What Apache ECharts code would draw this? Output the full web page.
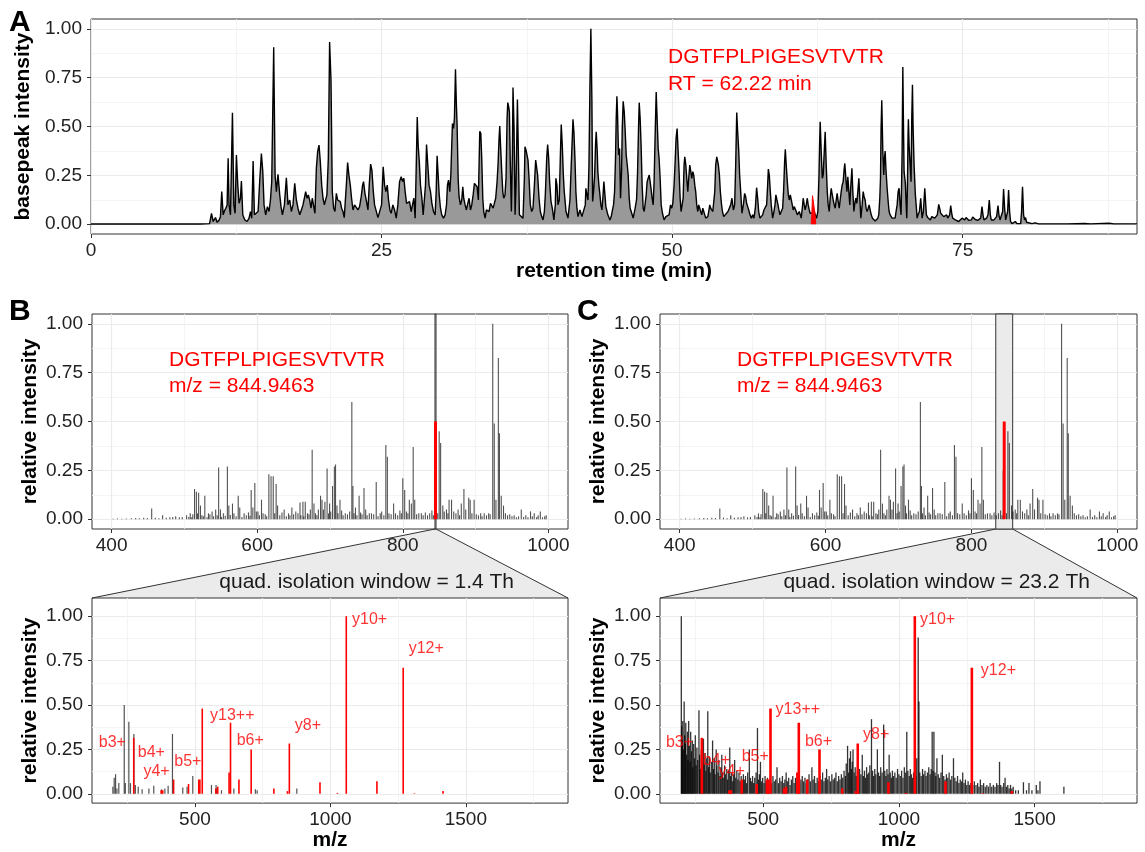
<!DOCTYPE html>
<html><head><meta charset="utf-8">
<script src="https://cdn.jsdelivr.net/npm/echarts@6/dist/echarts.min.js"></script>
<style>html,body{margin:0;padding:0;background:#fff}#c{width:1145px;height:852px}</style>
</head><body><div id="c"></div>
<script>
const FONT = '"Liberation Sans", Arial, Helvetica, sans-serif';

// ---------- DATA ----------
const chromatogram = [[0,0.001],[1.0,0.001],[1.05,0.004],[1.12,0.001],[5,0.001],[9.4,0.001],[10.2,0.003],
[10.37,0.056],[10.51,0.014],[10.71,0.034],[10.85,0.01],[11.03,0.022],[11.14,0.04],[11.25,0.167],[11.37,0.048],[11.48,0.068],[11.6,0.082],[11.71,0.099],[11.8,0.337],[11.88,0.099],[12.0,0.048],[12.17,0.57],[12.29,0.099],[12.4,0.056],[12.51,0.354],[12.63,0.2],[12.74,0.107],[12.86,0.133],[12.94,0.221],[13.06,0.048],[13.23,0.022],[13.43,0.014],[13.6,0.031],[13.72,0.065],[13.83,0.031],[13.95,0.323],[14.06,0.048],[14.23,0.039],[14.38,0.065],[14.52,0.226],[14.66,0.362],[14.78,0.269],[14.89,0.099],[15.03,0.048],[15.18,0.09],[15.32,0.065],[15.44,0.124],[15.55,0.218],[15.72,0.906],[15.84,0.252],[15.95,0.167],[16.09,0.255],[16.24,0.15],[16.35,0.09],[16.47,0.048],[16.64,0.099],[16.81,0.238],[16.95,0.099],[17.1,0.124],[17.24,0.065],[17.38,0.099],[17.53,0.209],[17.67,0.124],[17.81,0.082],[17.96,0.048],[18.1,0.073],[18.24,0.099],[18.36,0.133],[18.47,0.167],[18.59,0.133],[18.7,0.15],[18.81,0.124],[18.93,0.082],[19.04,0.133],[19.16,0.124],[19.27,0.056],[19.39,0.286],[19.5,0.371],[19.62,0.405],[19.73,0.32],[19.85,0.2],[19.96,0.133],[20.08,0.099],[20.19,0.107],[20.3,0.15],[20.42,0.337],[20.53,0.932],[20.65,0.736],[20.76,0.167],[20.88,0.082],[20.99,0.065],[21.11,0.158],[21.22,0.124],[21.33,0.133],[21.45,0.116],[21.56,0.082],[21.68,0.065],[21.79,0.034],[21.97,0.2],[22.08,0.315],[22.19,0.252],[22.31,0.2],[22.42,0.133],[22.54,0.073],[22.68,0.099],[22.83,0.107],[22.97,0.073],[23.11,0.09],[23.25,0.141],[23.37,0.2],[23.45,0.218],[23.57,0.158],[23.68,0.124],[23.83,0.073],[23.94,0.2],[24.06,0.308],[24.17,0.277],[24.29,0.167],[24.4,0.099],
[24.54,0.099],[24.69,0.034],[24.86,0.031],[25.0,0.099],[25.14,0.294],[25.26,0.2],[25.37,0.167],[25.49,0.2],[25.6,0.124],[25.72,0.073],[25.83,0.056],[25.97,0.099],[26.12,0.073],[26.26,0.031],[26.4,0.099],[26.55,0.218],[26.69,0.243],[26.81,0.218],[26.92,0.235],[27.03,0.167],[27.15,0.107],[27.26,0.099],[27.41,0.116],[27.55,0.065],[27.66,0.099],[27.78,0.133],[27.89,0.031],[27.98,0.286],[28.07,0.549],[28.15,0.405],[28.24,0.328],[28.35,0.2],[28.47,0.133],[28.58,0.048],[28.7,0.048],[28.78,0.2],[28.87,0.408],[28.98,0.303],[29.09,0.2],[29.21,0.167],[29.33,0.107],[29.47,0.065],[29.61,0.048],[29.7,0.167],[29.78,0.35],[29.87,0.252],[29.96,0.15],[30.07,0.082],[30.18,0.048],[30.33,0.031],[30.47,0.048],[30.59,0.099],[30.67,0.2],[30.76,0.226],[30.87,0.167],[30.96,0.252],[31.04,0.405],[31.1,0.515],[31.19,0.49],[31.27,0.541],[31.36,0.793],[31.44,0.609],[31.5,0.51],[31.59,0.235],[31.67,0.141],[31.79,0.099],[31.9,0.124],[31.99,0.192],[32.07,0.133],[32.19,0.099],[32.3,0.073],[32.42,0.107],[32.53,0.133],[32.65,0.073],[32.76,0.099],[32.88,0.15],[32.99,0.209],[33.11,0.2],[33.22,0.192],[33.33,0.124],[33.39,0.303],[33.45,0.476],[33.54,0.464],[33.62,0.337],[33.71,0.133],[33.79,0.065],[33.91,0.031],[34.02,0.073],[34.14,0.082],[34.25,0.065],[34.37,0.107],[34.48,0.116],[34.6,0.082],[34.71,0.073],[34.82,0.133],[34.94,0.218],[35.02,0.303],[35.11,0.439],[35.17,0.502],[35.25,0.388],[35.34,0.269],[35.43,0.167],[35.51,0.133],[35.62,0.15],[35.71,0.235],[35.8,0.541],[35.86,0.622],[35.94,0.6],[36.0,0.575],[36.08,0.303],[36.17,0.065],[36.26,0.371],[36.31,0.699],[36.4,0.49],[36.49,0.048],[36.57,0.2],[36.69,0.638],[36.77,0.371],[36.86,0.048],[37.0,0.039],[37.17,0.031],[37.29,0.235],[37.34,0.396],[37.43,0.379],[37.51,0.371],[37.6,0.328],[37.69,0.235],[37.8,0.099],[37.92,0.065],[38.03,0.082],[38.15,0.2],[38.26,0.328],[38.35,0.337],[38.43,0.252],[38.55,0.133],[38.66,0.065],[38.78,0.039],[38.89,0.022],[39.01,0.065],[39.09,0.15],[39.21,0.337],[39.29,0.408],[39.38,0.337],[39.46,0.218],[39.58,0.116],[39.69,0.082],
[39.83,0.022],[39.95,0.099],[40.0,0.235],[40.09,0.2],[40.18,0.099],[40.29,0.124],[40.38,0.337],[40.46,0.51],[40.55,0.405],[40.64,0.252],[40.72,0.167],[40.87,0.065],[41.04,0.031],[41.21,0.124],[41.32,0.303],[41.41,0.439],[41.47,0.537],[41.55,0.473],[41.64,0.337],[41.72,0.167],[41.81,0.082],[41.9,0.039],[42.07,0.073],[42.24,0.039],[42.41,0.031],[42.53,0.099],[42.58,0.184],[42.67,0.15],[42.76,0.124],[42.84,0.286],[42.93,0.711],[43.01,1.0],[43.1,0.626],[43.16,0.116],[43.24,0.167],[43.33,0.243],[43.41,0.405],[43.47,0.473],[43.56,0.371],[43.61,0.269],[43.7,0.2],[43.79,0.15],[43.87,0.099],[43.96,0.073],[44.04,0.133],[44.13,0.218],[44.22,0.15],[44.3,0.09],[44.47,0.048],[44.65,0.022],[44.76,0.039],[44.87,0.073],[44.96,0.099],[45.05,0.167],[45.13,0.337],[45.19,0.541],[45.25,0.655],[45.3,0.575],[45.39,0.354],[45.48,0.388],[45.56,0.133],[45.65,0.269],[45.71,0.49],[45.79,0.629],[45.88,0.575],[45.96,0.481],[46.05,0.354],[46.14,0.303],[46.22,0.252],[46.31,0.133],[46.39,0.082],[46.48,0.065],[46.65,0.031],[46.82,0.082],[46.94,0.124],[47.02,0.252],[47.11,0.49],[47.17,0.622],[47.25,0.541],[47.34,0.388],[47.42,0.2],[47.51,0.082],[47.6,0.065],[47.68,0.073],[47.77,0.15],[47.85,0.218],[47.94,0.235],[48.03,0.252],[48.11,0.218],[48.2,0.175],[48.28,0.133],[48.37,0.099],[48.45,0.218],[48.54,0.456],[48.63,0.677],[48.71,0.541],[48.8,0.388],[48.88,0.337],[48.97,0.235],[49.06,0.099],[49.17,0.056],[49.31,0.022],[49.46,0.039],[49.6,0.031],[49.74,0.048],[49.86,0.099],[49.97,0.082],[50.06,0.107],[50.17,0.2],[50.26,0.32],[50.34,0.439],[50.43,0.49],[50.52,0.371],[50.6,0.269],[50.69,0.133],[50.77,0.065],[50.86,0.099],[50.95,0.133],[51.03,0.303],[51.09,0.345],[51.18,0.303],[51.26,0.235],[51.35,0.167],[51.43,0.235],[51.52,0.303],[51.61,0.269],[51.69,0.235],[51.78,0.269],[51.86,0.252],[51.95,0.2],[52.03,0.167],[52.12,0.099],[52.21,0.065],[52.29,0.099],[52.38,0.099],[52.46,0.065],[52.55,0.048],[52.64,0.082],[52.72,0.073],[52.81,0.048],[52.89,0.031],[52.98,0.039],[53.07,0.039],[53.15,0.065],[53.24,0.099],[53.32,0.082],[53.41,0.073],[53.5,0.065],[53.58,0.065],[53.67,0.167],[53.75,0.303],[53.84,0.345],[53.9,0.328],[53.98,0.303],[54.07,0.252],[54.15,0.167],[54.24,0.107],[54.33,0.065],[54.44,0.039],[54.61,0.048],
[54.81,0.065],[54.93,0.073],[55.04,0.099],[55.15,0.133],[55.27,0.073],[55.38,0.099],[55.47,0.303],[55.56,0.571],[55.64,0.473],[55.73,0.379],[55.81,0.252],[55.9,0.167],[56.01,0.056],[56.13,0.099],[56.24,0.158],[56.33,0.141],[56.41,0.107],[56.5,0.09],[56.59,0.073],[56.7,0.048],[56.82,0.031],[56.93,0.048],[57.04,0.031],[57.16,0.082],[57.27,0.187],[57.36,0.133],[57.45,0.065],[57.56,0.031],[57.67,0.039],[57.79,0.048],[57.9,0.073],[58.02,0.073],[58.13,0.099],[58.22,0.2],[58.28,0.282],[58.36,0.252],[58.45,0.167],[58.53,0.099],[58.65,0.031],[58.76,0.065],[58.85,0.099],[58.93,0.15],[59.02,0.124],[59.11,0.099],[59.19,0.073],[59.28,0.048],[59.39,0.065],[59.51,0.082],[59.59,0.167],[59.68,0.32],[59.74,0.383],[59.82,0.303],[59.91,0.218],[60.0,0.15],[60.08,0.124],[60.17,0.15],[60.25,0.158],[60.34,0.099],[60.42,0.073],[60.51,0.09],[60.6,0.082],[60.68,0.065],[60.77,0.048],[60.85,0.056],[60.94,0.065],[61.03,0.048],[61.11,0.031],[61.2,0.082],[61.28,0.133],[61.37,0.099],[61.45,0.073],[61.54,0.099],[61.63,0.133],[61.71,0.099],[61.8,0.073],[61.88,0.056],[61.97,0.048],[62.08,0.056],[62.2,0.073],[62.31,0.048],[62.43,0.031],[62.54,0.065],[62.63,0.235],[62.69,0.405],[62.74,0.524],[62.83,0.371],[62.92,0.235],[63.0,0.252],[63.09,0.371],[63.17,0.473],[63.26,0.303],[63.35,0.167],[63.43,0.099],[63.52,0.065],[63.6,0.133],[63.69,0.184],[63.78,0.15],[63.86,0.124],[63.95,0.099],[64.03,0.082],[64.12,0.124],[64.2,0.158],[64.29,0.116],[64.38,0.082],[64.46,0.124],[64.55,0.167],[64.63,0.2],[64.72,0.218],[64.81,0.286],[64.86,0.311],[64.95,0.235],[65.04,0.167],[65.12,0.243],[65.21,0.167],[65.29,0.099],[65.38,0.2],[65.47,0.286],[65.55,0.167],[65.64,0.065],[65.72,0.107],[65.81,0.133],[65.89,0.107],[65.98,0.167],[66.07,0.235],[66.15,0.133],[66.24,0.031],[66.35,0.099],[66.44,0.167],[66.52,0.141],[66.61,0.124],[66.69,0.082],[66.78,0.065],[66.87,0.082],[66.95,0.099],[67.04,0.073],[67.13,0.048],[67.24,0.031],[67.36,0.031],[67.47,0.017],[67.58,0.014],[67.7,0.031],[67.78,0.048],[67.87,0.133],[67.93,0.235],[67.98,0.49],[68.04,0.634],[68.13,0.371],[68.21,0.252],[68.27,0.337],[68.33,0.374],[68.41,0.269],[68.5,0.184],[68.59,0.116],[68.67,0.065],[68.76,0.048],[68.84,0.039],[68.93,0.031],[69.02,0.022],[69.1,0.027],[69.19,0.031],[69.27,0.065],[69.36,0.099],[69.45,0.167],[69.53,0.184],[69.62,0.099],[69.7,0.048],[69.79,0.371],[69.85,0.804],
[69.9,0.541],[69.96,0.269],[70.02,0.235],[70.07,0.209],[70.13,0.116],[70.19,0.031],[70.25,0.2],[70.3,0.456],[70.33,0.537],[70.39,0.405],[70.45,0.337],[70.5,0.286],[70.56,0.218],[70.62,0.541],[70.68,0.714],[70.73,0.507],[70.82,0.303],[70.88,0.218],[70.93,0.15],[71.02,0.082],[71.08,0.031],[71.16,0.048],[71.28,0.065],[71.39,0.133],[71.45,0.082],[71.51,0.031],[71.62,0.065],[71.74,0.184],[71.79,0.133],[71.88,0.048],[71.99,0.034],[72.11,0.031],[72.22,0.022],[72.34,0.039],[72.48,0.039],[72.6,0.031],[72.71,0.031],[72.82,0.048],[72.94,0.102],[73.02,0.082],[73.11,0.056],[73.2,0.048],[73.28,0.056],[73.37,0.039],[73.45,0.031],[73.54,0.039],[73.63,0.048],[73.71,0.031],[73.8,0.022],[73.88,0.048],[73.97,0.095],[74.06,0.056],[74.14,0.031],[74.26,0.022],[74.37,0.022],[74.51,0.017],[74.66,0.014],[74.8,0.022],[74.94,0.031],[75.06,0.022],[75.17,0.022],[75.29,0.034],[75.4,0.031],[75.52,0.02],[75.63,0.014],[75.75,0.022],[75.86,0.037],[75.97,0.031],[76.09,0.024],[76.2,0.022],[76.32,0.02],[76.43,0.017],[76.55,0.031],[76.66,0.09],[76.75,0.048],[76.83,0.022],[76.95,0.027],[77.06,0.031],[77.18,0.048],[77.29,0.124],[77.38,0.048],[77.46,0.022],[77.58,0.02],[77.69,0.022],[77.81,0.027],[77.92,0.039],[78.04,0.095],[78.12,0.048],[78.21,0.022],[78.32,0.031],[78.44,0.065],[78.52,0.18],[78.61,0.082],[78.7,0.022],[78.78,0.022],[78.87,0.065],[78.95,0.175],[79.04,0.065],[79.12,0.014],[79.24,0.003],[79.38,0.005],[79.53,0.014],[79.67,0.003],[79.81,0.002],[79.99,0.003],[80.07,0.065],[80.15,0.192],[80.24,0.048],[80.33,0.022],[80.41,0.034],[80.5,0.01],[80.67,0.002],[80.96,0.003],[81.24,0.007],[81.53,0.002],[82.1,0.002],[84,0.002],[85.5,0.004],[86,0.002],[87.6,0.005],[88,0.002],[90,0.002]];

const targetXic = [[61.97,0],[62.02,0.05],[62.08,0.146],[62.24,0.146],[62.3,0.05],[62.36,0]];

const ms1Peaks = [[455,0.055],[470,0.02],[513.9,0.155],[516.4,0.14],[519.5,0.135],[522,0.07],[528,0.12],[533,0.03],[538,0.04],[542.9,0.05],[547,0.265],[549.5,0.05],[553.5,0.03],[559,0.27],[561,0.07],[566,0.08],[573.9,0.12],[576,0.06],[591.7,0.15],[594,0.06],[596.7,0.185],[598.8,0.04],[605.9,0.10],[616,0.23],[619,0.22],[622,0.22],[626,0.18],[628,0.07],[637,0.05],[647.6,0.06],[658.8,0.085],[662.8,0.09],[666,0.09],[675.5,0.355],[678,0.08],[684,0.05],[687,0.12],[689,0.10],[693,0.09],[696,0.26],[699.4,0.08],[703.5,0.17],[706,0.27],[707.6,0.28],[709.6,0.07],[713.7,0.10],[730,0.60],[731.5,0.17],[735,0.06],[740,0.12],[746.7,0.16],[749,0.05],[754,0.03],[763.5,0.19],[776.7,0.38],[778.8,0.32],[787.4,0.08],[800,0.21],[802.6,0.15],[809,0.10],[811.8,0.08],[814.3,0.37],[816.4,0.10],[825.5,0.03],[843.6,0.25],[850,0.45],[852,0.39],[855,0.07],[863.6,0.10],[867,0.10],[880.4,0.08],[884,0.155],[886.5,0.05],[890.6,0.11],[892.6,0.10],[898,0.10],[911.9,0.03],[923.6,1.0],[925.7,0.49],[928,0.10],[931.3,0.825],[932.8,0.44],[935.3,0.12],[938.4,0.07],[962.8,0.05],[975.5,0.04],[980.6,0.03],[989,0.04],[997,0.02]];

const ms1Minor = [[402,0.003],[408,0.004],[414,0.003],[420,0.004],[427,0.005],[433,0.006],[438,0.005],[444,0.008],[449,0.006],[460,0.008],[465,0.005],[475,0.008],[480,0.01],[484,0.012],[488,0.015],[493,0.01],[497,0.012],
[503,0.02],[506,0.012],[508,0.03],[510,0.01],[511.5,0.025],[518,0.03],[524,0.02],[526,0.015],[531,0.01],[535,0.025],[540,0.015],[545,0.02],[551,0.012],[556,0.018],[563,0.022],[568,0.03],[571,0.015],[579,0.012],[582,0.03],[585,0.02],[588,0.035],[590,0.018],[601,0.04],[603,0.02],[608,0.03],[611,0.025],[613,0.015],[624,0.03],[631,0.02],[634,0.035],[640,0.015],[643,0.03],[645,0.02],[650,0.025],[653,0.04],[656,0.03],[660,0.02],[664,0.015],[669,0.03],[671,0.025],[673,0.05],[680,0.03],[682,0.02],[691,0.05],[698,0.03],[701,0.04],[711,0.03],[716,0.045],[718,0.02],[721,0.03],[724,0.025],[727,0.04],[733,0.03],[737,0.02],[742,0.035],[744,0.025],[751,0.02],[757,0.03],[760,0.025],[766,0.015],[769,0.03],[771,0.04],[774,0.02],[781,0.03],[784,0.025],[790,0.03],[793,0.02],[796,0.045],[798,0.03],[805,0.04],[807,0.03],[819,0.025],[822,0.03],[828,0.02],[831,0.035],[834,0.02],[837,0.03],[840,0.045],[842,0.02],[848,0.03],[857,0.04],[860,0.05],[862,0.03],[870,0.04],[873,0.03],[876,0.05],[878,0.02],[895,0.03],[901,0.025],[904,0.02],[907,0.03],[909,0.015],[915,0.02],[918,0.03],[920,0.025],[941,0.03],[944,0.02],[947,0.025],[950,0.015],[953,0.02],[956,0.01],[959,0.015],[966,0.012],[969,0.02],[972,0.01],[978,0.015],[984,0.012],[986,0.02],[992,0.01],[995,0.015]];

const precursor = [[844.9463, 0.5]];
const isoWindowNarrow = [[844.2463, 845.6463]];
const isoWindowWide = [[833.3463, 856.5463]];

const ms2NarrowGrey = [[197,0.04],[202,0.09],[207,0.11],[212,0.03],[219,0.06],[239,0.50],[243,0.06],[256,0.405],[262,0.06],[274.6,0.337],[280,0.05],[290.6,0.04],[305,0.025],[330,0.03],[348,0.045],[376.6,0.025],[389,0.03],[401,0.045],[417,0.337],[455,0.035],[471,0.04],[492,0.10],[561,0.05],[578,0.05],[582,0.03],[598,0.02],[643.5,0.03],[723,0.025],[729.6,0.02],[876,0.03]];

const ms2WideGrey = [[198.5,1.0],[200,0.38],[202,0.30],[204,0.41],[206,0.25],[209,0.52],[211,0.33],[213,0.28],[215,0.40],[218,0.22],[221,0.35],[223,0.19],[225.6,0.41],[228,0.27],[231,0.18],[233,0.35],[236,0.24],[239,0.30],[241,0.15],[244,0.28],[247,0.20],[250,0.33],[253,0.16],[256,0.26],[259,0.19],[263.5,0.47],[266,0.22],[269,0.14],[272,0.25],[276,0.18],[280,0.31],[283,0.17],[286,0.23],[289,0.13],[292,0.20],[296,0.465],[299,0.15],[302,0.21],[305,0.12],[309,0.18],[313.7,0.30],[317,0.14],[320,0.20],[323,0.11],[327,0.25],[330,0.16],[334,0.12],[337,0.19],[341,0.10],[344,0.15],[347.6,0.22],[351,0.12],[355,0.09],[358,0.16],[362,0.11],[366,0.14],[369,0.08],[373,0.13],[377,0.26],[380,0.10],[384,0.12],[388,0.07],[391,0.11],[395,0.19],[399,0.09],[403,0.13],[407,0.08],[411,0.12],[415,0.07],[419,0.10],[423,0.06],[427,0.11],[431,0.08],[435,0.10],[439,0.06],[443,0.12],[449,0.25],[453,0.09],[457,0.07],[461,0.10],[465,0.06],[469,0.09],[474,0.12],[479,0.37],[483,0.08],[486,0.11],[490,0.18],[494,0.07],[498,0.09],[503,0.06],[507,0.10],[511,0.07],[516,0.09],[520,0.05],[525,0.08],[531,0.06],[536,0.10],[541,0.07],[546,0.08],[551,0.15],[556,0.06],[561,0.09],[566,0.07],[571,0.10],[576,0.06],[580,0.08],[584.7,0.12],[589,0.07],[594,0.09],[599,0.05],[604,0.08],[609,0.10],[614,0.06],[619,0.09],[624,0.07],[629,0.11],[634,0.06],[639,0.08],[644,0.10],[649,0.07],[654,0.09],[659,0.06],[664,0.08],[669,0.11],[674,0.07],[679.5,0.15],[684,0.08],[689,0.10],[694,0.06],[699,0.09],[704,0.07],[709,0.10],[714,0.08],[719,0.12],[724,0.07],[729,0.09],[733.7,0.14],[738,0.08],[743,0.10],[748,0.07],[753,0.11],[758,0.08],[763,0.09],[768,0.12],[773,0.07],[778,0.10],[783,0.08],[788,0.11],[793,0.09],[798,0.13],[803,0.10],[806,0.17],[810.9,0.27],[815,0.12],[818,0.20],[821.8,0.24],[825,0.14],[828,0.18],[831,0.25],[835,0.12],[839,0.15],[843,0.10],[847,0.13],[851,0.09],[855,0.14],[860,0.11],[865,0.22],[869,0.10],[873,0.13],[877,0.09],[881,0.15],[885,0.11],[889,0.12],[893,0.16],[899,0.42],[903,0.13],[907,0.10],[911,0.14],[915,0.11],[920.7,0.25],[925,0.12],[929,0.10],[933,0.15],[938,0.12],[943.8,0.39],[948,0.13],[952,0.10],[956,0.14],[960,0.11],[964,0.22],[968,0.12],[972,0.09],[976,0.13],[980,0.10],[985,0.12],[990,0.09],[995,0.14],[1000,0.11],[1005,0.10],[1010,0.13],[1015,0.09],[1020,0.15],[1025,0.12],[1029,0.35],[1033,0.13],[1038,0.10],[1042,0.14],[1046,0.11],[1050,0.09],[1054,0.12],[1062,0.10],[1065.7,0.20],[1071,0.88],[1073.8,0.52],[1077,0.12],[1082,0.10],[1087,0.14],[1091,0.11],[1096,0.13],[1100,0.10],[1105,0.12],[1110,0.15],[1115,0.11],[1119,0.14],[1122.6,0.35],[1126,0.13],[1129,0.35],[1133,0.12],[1136,0.10],[1140,0.20],[1145,0.11],[1150,0.09],[1155,0.12],[1160,0.22],[1165,0.10],[1170,0.08],[1175,0.11],[1180,0.09],[1185,0.12],[1190,0.08],[1195,0.10],[1201,0.20],[1206,0.09],[1211,0.07],[1216,0.10],[1221,0.06],[1226,0.08],[1231,0.07],[1235,0.12],[1240,0.06],[1245,0.08],[1250,0.05],[1255,0.07],[1260,0.05],[1265,0.06],[1272,0.05],[1278,0.07],[1284,0.05],[1290,0.06],[1295,0.04],[1300,0.08],[1306,0.05],[1312,0.06],[1318,0.04],[1324,0.05],[1330,0.04],[1336,0.06],[1342,0.04],[1348,0.05],[1354,0.04],[1360,0.06],[1365,0.05],[1370.6,0.18],[1375,0.05],[1380,0.04],[1386,0.06],[1391,0.09],[1396,0.04],[1401,0.05],[1406,0.03],[1411,0.05],[1416,0.03],[1421,0.04],[1430,0.02],[1440,0.02],[1458.7,0.065],[1470,0.02],[1479,0.06],[1490,0.02],[1506,0.05],[1512,0.02],[1519.6,0.07],[1607.7,0.04]];

const ms2Annotated = [[274.1,0.315],[375.2,0.02],[381,0.02],[421.2,0.08],[476.3,0.055],[514,0.08],[518.2,0.08],[527,0.48],[577,0.03],[584,0.04],[626,0.12],[631.3,0.40],[662.4,0.08],[707.5,0.25],[791.4,0.03],[841.4,0.015],[848.4,0.283],[961.5,0.065],[1026,0.005],[1058.6,1.0],[1171.7,0.07],[1268.7,0.71],[1310,0.003],[1415.8,0.015]];

const ionLabelsNarrow = [[143,0.29,'b3+'],[287,0.23,'b4+'],[308,0.124,'y4+'],[422,0.184,'b5+'],[554,0.442,'y13++'],[652,0.30,'b6+'],[867,0.384,'y8+'],[1078,0.979,'y10+'],[1287,0.82,'y12+']];
const ionLabelsWide = [[140,0.29,'b3+'],[276,0.187,'b4+'],[334,0.127,'y4+'],[419,0.208,'b5+'],[544,0.472,'y13++'],[652,0.296,'b6+'],[866,0.333,'y8+'],[1076,0.983,'y10+'],[1300,0.693,'y12+']];

const yTicks = [0, 0.25, 0.5, 0.75, 1];
const yMinorTicks = [0.125, 0.375, 0.625, 0.875];
const rtTicks = [0, 25, 50, 75];
const rtMinorTicks = [12.5, 37.5, 62.5, 87.5];
const ms1Ticks = [400, 600, 800, 1000];
const ms1MinorTicks = [500, 700, 900];
const ms2Ticks = [500, 1000, 1500];
const ms2MinorTicks = [250, 750, 1250, 1750];

// ---------- LAYOUT ----------
const G = [
  {left:91, top:19, width:1046, height:215},   // A
  {left:92, top:314, width:476, height:215},   // B top
  {left:660, top:314, width:477, height:215},  // C top
  {left:92, top:598, width:476, height:206},   // B bottom
  {left:660, top:598, width:477, height:206}   // C bottom
];
const XR = [[0,90],[373,1027],[373,1027],[120,1877],[120,1877]];
const YR = [[-0.05,1.05],[-0.05,1.05],[-0.05,1.05],[-0.0525,1.1025],[-0.0525,1.1025]];
const XT = [[rtTicks,rtMinorTicks],[ms1Ticks,ms1MinorTicks],[ms1Ticks,ms1MinorTicks],[ms2Ticks,ms2MinorTicks],[ms2Ticks,ms2MinorTicks]];
const XNAME = [['retention time (min)',26],['',0],['',0],['m/z',26],['m/z',26]];
const YNAME = ['basepeak intensity','relative intensity','relative intensity','relative intensity','relative intensity'];
const YGAP = [49, 51, 51, 51, 51];

const titleStyle = {fontFamily:FONT, fontSize:21, fontWeight:'bold', color:'#000'};
const xAxes = [], yAxes = [];
for (let i=0;i<5;i++){
  xAxes.push({type:'value', gridIndex:i, min:XR[i][0], max:XR[i][1], position:'bottom',
    axisLine:{show:false, onZero:false},
    axisTick:{show:true, length:4, lineStyle:{color:'#333', width:1}, customValues:XT[i][0]},
    axisLabel:{customValues:XT[i][0], fontFamily:FONT, fontSize:19, color:'#222', margin:7, formatter:v=>String(v)},
    splitLine:{show:true, lineStyle:{color:'#EBEBEB', width:1.2}},
    name:XNAME[i][0], nameLocation:'middle', nameGap:XNAME[i][1], nameTextStyle:titleStyle});
  yAxes.push({type:'value', gridIndex:i, min:YR[i][0], max:YR[i][1], position:'left',
    axisLine:{show:false, onZero:false},
    axisTick:{show:true, length:4, lineStyle:{color:'#333', width:1}, customValues:yTicks},
    axisLabel:{customValues:yTicks, fontFamily:FONT, fontSize:19, color:'#222', margin:9, formatter:v=>Number(v).toFixed(2)},
    splitLine:{show:true, lineStyle:{color:'#EBEBEB', width:1.2}},
    name:YNAME[i], nameLocation:'middle', nameGap:YGAP[i], nameRotate:90, nameTextStyle:titleStyle});
}
for (let i=0;i<5;i++){
  xAxes.push({type:'value', gridIndex:i, min:XR[i][0], max:XR[i][1], position:'top',
    axisLine:{show:false, onZero:false}, axisTick:{show:false, customValues:XT[i][1]},
    axisLabel:{show:false, customValues:XT[i][1]},
    splitLine:{show:true, lineStyle:{color:'#F1F1F1', width:0.8}}});
  yAxes.push({type:'value', gridIndex:i, min:YR[i][0], max:YR[i][1], position:'right',
    axisLine:{show:false, onZero:false}, axisTick:{show:false, customValues:yMinorTicks},
    axisLabel:{show:false, customValues:yMinorTicks},
    splitLine:{show:true, lineStyle:{color:'#F1F1F1', width:0.8}}});
}

function sticks(data, idx, color, width, z){
  return {type:'custom', xAxisIndex:idx, yAxisIndex:idx, data, z, silent:true, clip:true,
    encode:{x:0, y:1},
    renderItem:(params, api)=>{
      const x = api.value(0), y = api.value(1);
      const a = api.coord([x, 0]), b = api.coord([x, y]);
      return {type:'line', shape:{x1:a[0], y1:a[1], x2:b[0], y2:b[1]}, style:{stroke:color, lineWidth:width}};
    }};
}
function windowRect(data, idx){
  return {type:'custom', xAxisIndex:idx, yAxisIndex:idx, data, z:1, silent:true,
    encode:{x:[0,1]},
    renderItem:(params, api)=>{
      const a = api.coord([api.value(0), YR[idx][1]]);
      const b = api.coord([api.value(1), YR[idx][0]]);
      return {type:'rect', shape:{x:a[0], y:a[1], width:b[0]-a[0], height:b[1]-a[1]},
        style:{fill:'#EBEBEB', stroke:'#333', lineWidth:1}};
    }};
}
function labels(data, idx){
  return {type:'scatter', xAxisIndex:idx, yAxisIndex:idx, data, z:6, silent:true,
    symbolSize:1, itemStyle:{color:'rgba(0,0,0,0)'},
    label:{show:true, position:'right', distance:0, formatter:p=>p.data[2],
      color:'#FF0000', fontFamily:FONT, fontSize:16}};
}

const GREY = 'rgba(0,0,0,0.68)';
const series = [
  {type:'line', xAxisIndex:0, yAxisIndex:0, data:chromatogram, symbol:'none', z:2, silent:true,
    lineStyle:{color:'#000', width:1.4}, areaStyle:{color:'#999999', opacity:1}},
  {type:'line', xAxisIndex:0, yAxisIndex:0, data:targetXic, symbol:'none', z:3, silent:true,
    lineStyle:{color:'#FF0000', width:1}, areaStyle:{color:'#FF0000', opacity:1}},
  windowRect(isoWindowNarrow, 1),
  sticks(ms1Minor, 1, GREY, 1.1, 2),
  sticks(ms1Peaks, 1, GREY, 1.1, 2),
  sticks(precursor, 1, '#FF0000', 3, 3),
  windowRect(isoWindowWide, 2),
  sticks(ms1Minor, 2, GREY, 1.1, 2),
  sticks(ms1Peaks, 2, GREY, 1.1, 2),
  sticks(precursor, 2, '#FF0000', 3, 3),
  sticks(ms2NarrowGrey, 3, GREY, 1.2, 2),
  sticks(ms2Annotated, 3, '#FF0000', 1.6, 3),
  labels(ionLabelsNarrow, 3),
  sticks(ms2WideGrey, 4, 'rgba(0,0,0,0.8)', 1.3, 2),
  sticks(ms2Annotated, 4, '#FF0000', 2.6, 3),
  labels(ionLabelsWide, 4)
];

const chart = echarts.init(document.getElementById('c'), null, {renderer:'canvas'});
chart.setOption({
  animation:false,
  backgroundColor:'#fff',
  grid: G.map(g=>({left:g.left, top:g.top, width:g.width, height:g.height, show:true,
    borderColor:'#333', borderWidth:1, backgroundColor:'rgba(0,0,0,0)', containLabel:false})),
  xAxis:xAxes, yAxis:yAxes, series
});

// ---------- DECORATIONS (zoom trapezoids, texts) ----------
function trapezoid(topIdx, botIdx, win){
  const t = G[topIdx], b = G[botIdx];
  const wl = chart.convertToPixel({xAxisIndex:topIdx}, win[0]);
  const wr = chart.convertToPixel({xAxisIndex:topIdx}, win[1]);
  const ty = t.top + t.height, by = b.top;
  return [
    {type:'polygon', z:-1, silent:true, shape:{points:[[wl,ty],[wr,ty],[b.left+b.width,by],[b.left,by]]},
      style:{fill:'#EBEBEB'}},
    {type:'polyline', z:-1, silent:true, shape:{points:[[wl,ty],[b.left,by]]}, style:{stroke:'#333', lineWidth:1, fill:null}},
    {type:'polyline', z:-1, silent:true, shape:{points:[[wr,ty],[b.left+b.width,by]]}, style:{stroke:'#333', lineWidth:1, fill:null}}
  ];
}
function txt(x, y, text, size, color, weight, align){
  return {type:'text', z:20, silent:true, x, y,
    style:{text, fill:color, font:(weight||'normal')+' '+size+'px '+FONT, textAlign:align||'left', textVerticalAlign:'middle'}};
}
const els = [].concat(
  trapezoid(1, 3, isoWindowNarrow[0]),
  trapezoid(2, 4, isoWindowWide[0]),
  [
    txt(G[3].left + 0.577*G[3].width, G[3].top - 16, 'quad. isolation window = 1.4 Th', 21, '#1a1a1a', 'normal', 'center'),
    txt(G[4].left + 0.58*G[4].width, G[4].top - 16, 'quad. isolation window = 23.2 Th', 21, '#1a1a1a', 'normal', 'center'),
    txt(9, 23, 'A', 30, '#000', 'bold'),
    txt(9, 312, 'B', 30, '#000', 'bold'),
    txt(577, 312, 'C', 30, '#000', 'bold'),
    txt(668, 57, 'DGTFPLPIGESVTVTR', 21, '#FF0000'),
    txt(668, 84, 'RT = 62.22 min', 21, '#FF0000'),
    txt(169, 360, 'DGTFPLPIGESVTVTR', 21, '#FF0000'),
    txt(169, 386, 'm/z = 844.9463', 21, '#FF0000'),
    txt(737, 360, 'DGTFPLPIGESVTVTR', 21, '#FF0000'),
    txt(737, 386, 'm/z = 844.9463', 21, '#FF0000')
  ]
);
chart.setOption({graphic:{elements:els}});
</script>
</body></html>
